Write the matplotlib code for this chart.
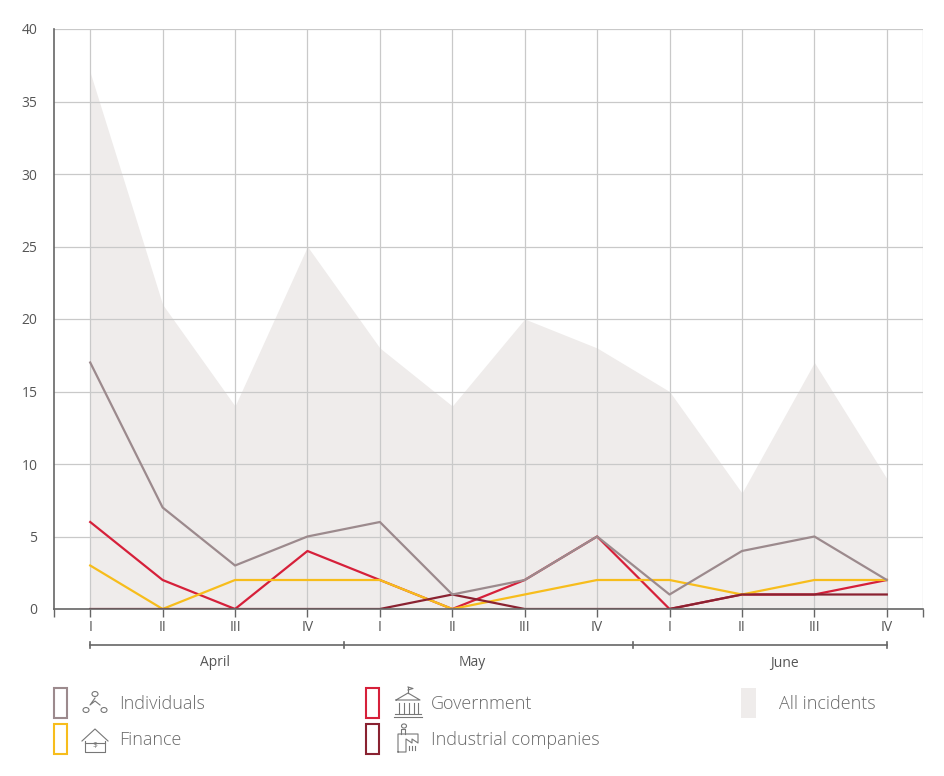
import matplotlib
matplotlib.use("Agg")
import matplotlib.pyplot as plt
from matplotlib.patches import Rectangle, Circle
from matplotlib.lines import Line2D

plt.rcParams['font.family'] = ['Open Sans', 'DejaVu Sans']

weeks = ["I", "II", "III", "IV"] * 3
months = ["April", "May", "June"]
all_incidents = [37, 21, 14, 25, 18, 14, 20, 18, 15, 8, 17, 9]
individuals = [17, 7, 3, 5, 6, 1, 2, 5, 1, 4, 5, 2]
government = [6, 2, 0, 4, 2, 0, 2, 5, 0, 1, 1, 2]
finance = [3, 0, 2, 2, 2, 0, 1, 2, 2, 1, 2, 2]
industrial = [0, 0, 0, 0, 0, 1, 0, 0, 0, 1, 1, 1]
y_ticks = [0, 5, 10, 15, 20, 25, 30, 35, 40]

C_ALL = "#efeceb"
C_IND = "#9c8a8d"
C_GOV = "#d6203a"
C_FIN = "#f7bd1c"
C_INDU = "#8a2231"
TXT = "#555555"

W, H = 945, 776
fig = plt.figure(figsize=(W / 100, H / 100), dpi=100)
ax = fig.add_axes([54 / W, 1 - 609 / H, (923 - 54) / W, (609 - 29) / H])

x = list(range(len(weeks)))
ax.fill_between(x, all_incidents, 0, color=C_ALL, lw=0, zorder=1)
ax.plot(x, government, color=C_GOV, lw=1.6, zorder=3)
ax.plot(x, finance, color=C_FIN, lw=1.6, zorder=4)
ax.plot(x, industrial, color=C_INDU, lw=1.6, zorder=5)
ax.plot(x, individuals, color=C_IND, lw=1.6, zorder=6)

ax.set_xlim(-0.5, len(weeks) - 0.5)
ax.set_ylim(0, 40)
ax.set_yticks(y_ticks)
ax.set_yticklabels([str(v) for v in y_ticks], fontsize=10, color=TXT)
ax.set_xticks(x)
ax.set_xticklabels(weeks, fontsize=10, color=TXT)
ax.set_xticks([-0.5, len(weeks) - 0.5], minor=True)
ax.tick_params(axis='x', which='both', length=6, color="#666666", width=1, pad=2)
ax.tick_params(axis='y', length=0, pad=12)

ax.grid(True, color="#c9c9c9", lw=0.9, zorder=2)
for side in ["top", "right"]:
    ax.spines[side].set_visible(False)
ax.axvline(len(weeks) - 0.5, color="#c9c9c9", lw=0.9, zorder=2)
for side in ["left", "bottom"]:
    ax.spines[side].set_color("#666666")
    ax.spines[side].set_linewidth(1.2)
    ax.spines[side].set_zorder(7)
for gl in ax.get_xgridlines() + ax.get_ygridlines():
    gl.set_zorder(2)

# month brackets
trans = ax.get_xaxis_transform()
yb = -(645 - 609) / (609 - 29)
ym = -(663 - 609) / (609 - 29)
bounds = [0, 3.5, 7.5, 11]
label_x = [1.72, 5.27, 9.58]
ax.plot([bounds[0], bounds[-1]], [yb, yb], color="#666666", lw=1.2, transform=trans, clip_on=False)
for b in bounds:
    ax.plot([b, b], [yb - 0.006, yb + 0.006], color="#666666", lw=1.2, transform=trans, clip_on=False)
for lx, m in zip(label_x, months):
    ax.text(lx, ym, m, transform=trans, ha='center', va='center', fontsize=10,
            color="#555555")

# legend
def fx(px):
    return px / W

def fy(py):
    return 1 - py / H

def box(x0, yc, color, filled=False):
    if filled:
        r = Rectangle((fx(x0), fy(yc + 15)), 15 / W, 30 / H, transform=fig.transFigure,
                      facecolor=C_ALL, edgecolor='none')
    else:
        r = Rectangle((fx(x0), fy(yc + 15)), 13 / W, 30 / H, transform=fig.transFigure,
                      facecolor='white', edgecolor=color, lw=1.5)
    fig.add_artist(r)

def ln(xs, ys, **kw):
    fig.add_artist(Line2D([fx(v) for v in xs], [fy(v) for v in ys], transform=fig.transFigure,
                          color="#777777", lw=0.8, **kw))

def circ(cx, cy, r):
    fig.add_artist(Circle((fx(cx), fy(cy)), r / W, transform=fig.transFigure,
                          facecolor='none', edgecolor="#777777", lw=0.8))

# Individuals icon
circ(95, 694, 3); circ(86, 710, 3); circ(104, 710, 3)
ln([95, 90, 95, 100], [698, 705, 701, 705])
# Finance icon
ln([82, 95, 108], [741, 729, 741]); ln([85, 105], [743, 743])
ln([85, 85, 105, 105], [741, 752, 752, 741])
fig.text(fx(95), fy(745), "$", fontsize=6, color="#777777", ha='center', va='center')
# Government icon
ln([396, 408, 420, 396], [700, 693, 700, 700])
ln([408, 408], [693, 687]); ln([408, 413, 408], [687, 688.5, 690])
for cxx in [399, 404, 409, 414, 418]:
    ln([cxx, cxx], [703, 713])
ln([395, 421], [714, 714]); ln([394, 422], [717, 717])
# Industrial icon
ln([398, 398, 418, 418, 412, 412, 406, 406, 398], [752, 734, 734, 743, 739, 743, 739, 752, 752])
ln([401, 401, 405, 405], [734, 729, 729, 734])
circ(404, 726, 2.5)
for cxx in [409, 412, 415]:
    ln([cxx, cxx], [746, 750])

box(54, 703, C_IND)
box(54, 739, C_FIN)
box(366, 703, C_GOV)
box(366, 739, C_INDU)
box(741, 703, None, filled=True)

leg_fs = 13
lc = "#6a6a6a"
fig.text(fx(119), fy(704), "Individuals", fontsize=leg_fs, color=lc, va='center', fontweight='light')
fig.text(fx(119), fy(740), "Finance", fontsize=leg_fs, color=lc, va='center', fontweight='light')
fig.text(fx(431), fy(704), "Government", fontsize=leg_fs, color=lc, va='center', fontweight='light')
fig.text(fx(431), fy(740), "Industrial companies", fontsize=leg_fs, color=lc, va='center', fontweight='light')
fig.text(fx(779), fy(704), "All incidents", fontsize=leg_fs, color=lc, va='center', fontweight='light')

fig.savefig("out.png", dpi=100, facecolor='white')
